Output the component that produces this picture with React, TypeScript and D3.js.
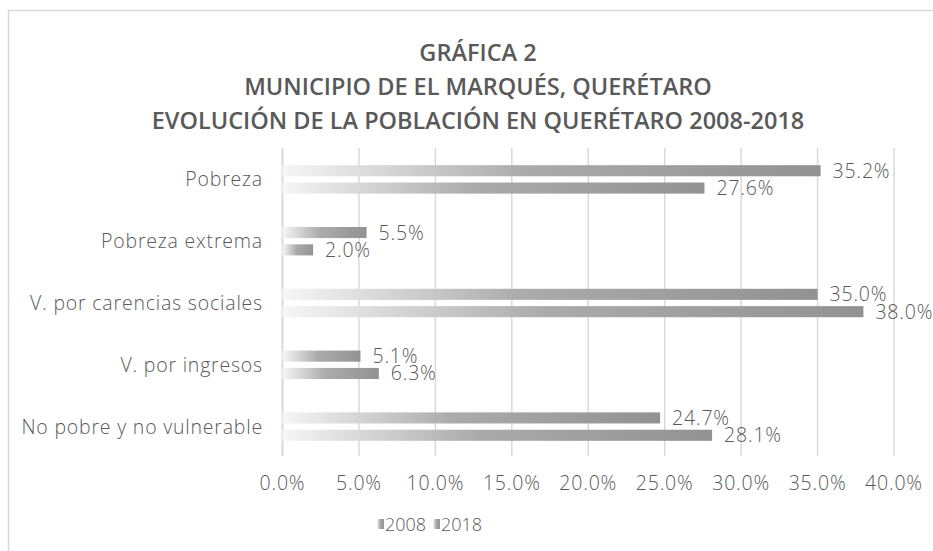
import React, { useEffect, useRef } from "react";
import * as d3 from "d3";

const categories = [
  "Pobreza",
  "Pobreza extrema",
  "V. por carencias sociales",
  "V. por ingresos",
  "No pobre y no vulnerable",
];
const series = ["2008", "2018"];
const values2008 = [35.2, 5.5, 35.0, 5.1, 24.7];
const values2018 = [27.6, 2.0, 38.0, 6.3, 28.1];
const xTicks = [0, 5, 10, 15, 20, 25, 30, 35, 40];
const titleLines = [
  "GRÁFICA 2",
  "MUNICIPIO DE EL MARQUÉS, QUERÉTARO",
  "EVOLUCIÓN DE LA POBLACIÓN EN QUERÉTARO 2008-2018",
];

const W = 933;
const H = 551;
const TEXT = "#595959";
const LABEL_FONT = "'Open Sans', sans-serif";
const LABEL_SIZE = 19.5;
const SPACING = 0.8;

const App = () => {
  const ref = useRef<SVGSVGElement>(null);

  useEffect(() => {
    const svg = d3.select(ref.current);
    svg.selectAll("*").remove();

    // gradiente blanco -> gris como en Excel
    const defs = svg.append("defs");
    const grad = defs
      .append("linearGradient")
      .attr("id", "barGrad")
      .attr("x1", "0")
      .attr("x2", "1")
      .attr("y1", "0")
      .attr("y2", "0");
    grad.append("stop").attr("offset", "0").attr("stop-color", "#f6f6f6");
    grad.append("stop").attr("offset", "0.45").attr("stop-color", "#ababab");
    grad.append("stop").attr("offset", "1").attr("stop-color", "#929292");

    // marco
    svg
      .append("rect")
      .attr("x", 8.5)
      .attr("y", 10.5)
      .attr("width", W + 20)
      .attr("height", H + 20)
      .attr("fill", "none")
      .attr("stroke", "#d9d9d9")
      .attr("stroke-width", 1.5);

    svg
      .append("g")
      .selectAll("text")
      .data(titleLines)
      .enter()
      .append("text")
      .attr("x", 478)
      .attr("y", (d, i) => 61 + i * 34)
      .attr("text-anchor", "middle")
      .attr("font-family", "'Open Sans', sans-serif")
      .attr("font-weight", 600)
      .attr("font-size", 23.5)
      .attr("fill", TEXT)
      .text((d) => d);

    const x = d3.scaleLinear().domain([0, 40]).range([282.5, 894]);
    const y = d3
      .scaleBand()
      .domain(categories)
      .range([148.5, 457.5])
      .paddingInner(0.54)
      .paddingOuter(0.27);
    const ySub = d3
      .scaleBand()
      .domain(series)
      .range([0, y.bandwidth()])
      .paddingInner(0.36);

    const label = (sel: any) =>
      sel
        .attr("font-family", LABEL_FONT)
        .attr("font-weight", 300)
        .attr("font-size", LABEL_SIZE)
        .attr("letter-spacing", SPACING)
        .attr("fill", TEXT);

    // rejilla
    svg
      .append("g")
      .selectAll("line")
      .data(xTicks)
      .enter()
      .append("line")
      .attr("x1", (d) => x(d))
      .attr("x2", (d) => x(d))
      .attr("y1", 148)
      .attr("y2", 456)
      .attr("stroke", "#d9d9d9")
      .attr("stroke-width", (d) => (d === 0 ? 2 : 1.5));

    svg
      .append("g")
      .selectAll("text")
      .data(xTicks)
      .enter()
      .append("text")
      .attr("x", (d) => x(d))
      .attr("y", 490)
      .attr("text-anchor", "middle")
      .call(label)
      .text((d) => d.toFixed(1) + "%");

    svg
      .append("g")
      .selectAll("text")
      .data(categories)
      .enter()
      .append("text")
      .attr("x", 263)
      .attr("y", (d) => (y(d) as number) + y.bandwidth() / 2 + 7)
      .attr("text-anchor", "end")
      .call(label)
      .text((d) => d);

    const rows = categories.flatMap((c, i) => [
      { cat: c, s: "2008", v: values2008[i] },
      { cat: c, s: "2018", v: values2018[i] },
    ]);

    const bars = svg.append("g");
    bars
      .selectAll("rect")
      .data(rows)
      .enter()
      .append("rect")
      .attr("x", x(0))
      .attr("y", (d) => (y(d.cat) as number) + (ySub(d.s) as number))
      .attr("width", (d) => x(d.v) - x(0))
      .attr("height", ySub.bandwidth())
      .attr("fill", "url(#barGrad)");

    bars
      .selectAll("text")
      .data(rows)
      .enter()
      .append("text")
      .attr("x", (d) => x(d.v) + 12)
      .attr("y", (d) => (y(d.cat) as number) + (ySub(d.s) as number) + ySub.bandwidth() / 2 + 7)
      .call(label)
      .text((d) => d.v.toFixed(1) + "%");

    // leyenda
    const legend = svg.append("g").selectAll("g").data(series).enter().append("g")
      .attr("transform", (d, i) => `translate(${377 + i * 56},0)`);
    legend
      .append("rect")
      .attr("x", 0)
      .attr("y", 519)
      .attr("width", 7)
      .attr("height", 10)
      .attr("fill", "url(#barGrad)");
    legend
      .append("text")
      .attr("x", 8)
      .attr("y", 531)
      .call(label)
      .attr("font-size", 18)
      .attr("letter-spacing", 0)
      .text((d) => d);
  }, []);

  return (
    <svg
      ref={ref}
      width={W}
      height={H}
      style={{ position: "absolute", left: 0, top: 0, background: "#fff" }}
    />
  );
};

export default App;
